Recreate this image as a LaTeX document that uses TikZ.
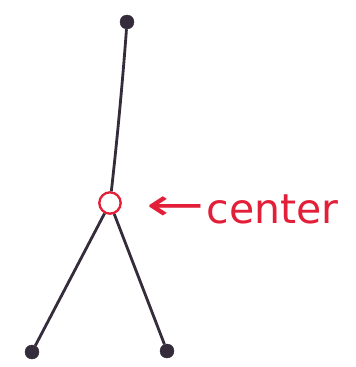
\documentclass[tikz,border=0pt]{standalone}
\usepackage{fontspec}
\newfontfamily\handfont{DejaVu Sans}
\usetikzlibrary{positioning}
\definecolor{inkdark}{RGB}{52,44,58}
\definecolor{inkred}{RGB}{226,30,56}

\begin{document}
\begin{tikzpicture}[
  x=0.03cm, y=-0.03cm,
  dot/.style={circle, fill=inkdark, draw=inkdark, inner sep=0pt, minimum size=0.42cm},
  centre/.style={circle, draw=inkred, line width=2pt, inner sep=0pt, minimum size=0.64cm},
  edge/.style={draw=inkdark, line width=2.4pt}
]
\useasboundingbox (0,0) rectangle (355,367);

% Vertices
\node[dot] (top) at (127,22) {};
\node[centre] (mid) at (110,203) {};
\node[dot] (left) at (32,352) {};
\node[dot] (right) at (167,351) {};

% Edges
\draw[edge] (top) .. controls (122,90) and (116,150) .. (mid);
\draw[edge] (mid) -- (left);
\draw[edge] (mid) -- (right);

% Label
\node[text=inkred, font=\handfont\fontsize{35}{40}\selectfont, anchor=base west, inner sep=0pt] (lbl) at (146,223) {\raisebox{0.05em}{\scalebox{1.7}[1.1]{←}}\kern0.05em center};
\end{tikzpicture}
\end{document}
